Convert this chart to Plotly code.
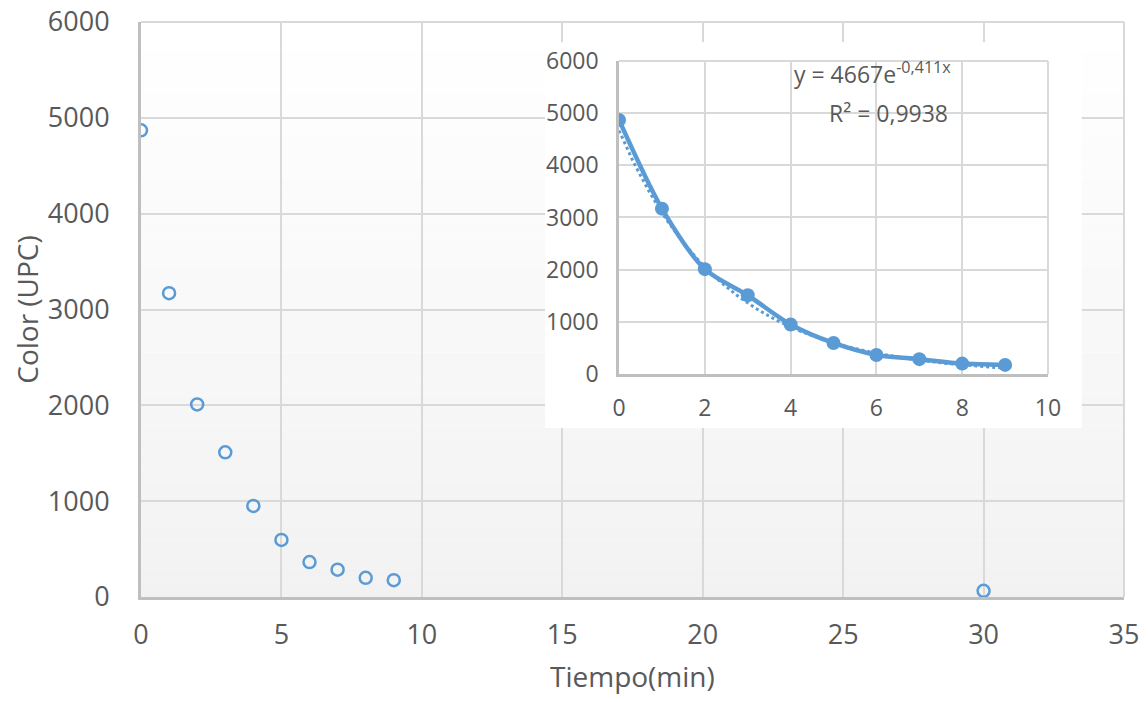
import numpy as np
import plotly.graph_objects as go

# ---- data ----
tiempo = [0, 1, 2, 3, 4, 5, 6, 7, 8, 9, 30]
color_upc = [4870, 3170, 2010, 1510, 950, 595, 365, 285, 200, 175, 65]

tiempo_inset = [0, 1, 2, 3, 4, 5, 6, 7, 8, 9]
color_inset = [4870, 3170, 2010, 1510, 950, 595, 365, 285, 200, 175]

# exponential trendline shown in the inset label: y = 4667 e^(-0.411 x)
trend_a = 4667
trend_k = 0.411
trend_x = np.linspace(0, 9, 120)
trend_y = trend_a * np.exp(-trend_k * trend_x)

eq_label = "y = 4667e<sup>-0,411x</sup>"
r2_label = "R² = 0,9938"
x_title = "Tiempo(min)"
y_title = "Color (UPC)"

BLUE = "#5B9BD5"
GRID = "#D9D9D9"
AXIS = "#BFBFBF"
TXT = "#595959"
FONT = "Open Sans"

fig = go.Figure()

# main scatter (open circles)
fig.add_trace(go.Scatter(
    x=tiempo, y=color_upc, mode="markers",
    marker=dict(symbol="circle-open", size=12, color=BLUE, line=dict(width=2.5, color=BLUE)),
    xaxis="x", yaxis="y", showlegend=False, hoverinfo="skip"))

# invisible trace to create the white backing panel subplot
fig.add_trace(go.Scatter(x=[None], y=[None], xaxis="x2", yaxis="y2",
                         showlegend=False, hoverinfo="skip"))

# inset: trendline (dotted)
fig.add_trace(go.Scatter(
    x=trend_x, y=trend_y, mode="lines",
    line=dict(color=BLUE, width=3, dash="dot"),
    xaxis="x3", yaxis="y3", showlegend=False, hoverinfo="skip"))

# inset: smoothed line with markers
fig.add_trace(go.Scatter(
    x=tiempo_inset, y=color_inset, mode="lines+markers",
    line=dict(color=BLUE, width=4.5, shape="spline", smoothing=0.8),
    marker=dict(size=14, color=BLUE),
    xaxis="x3", yaxis="y3", showlegend=False, hoverinfo="skip"))

# gradient background for main plot area (white -> light grey)
n_bands = 40
shapes = []
for i in range(n_bands):
    t = i / (n_bands - 1)
    v = int(round(242 + (255 - 242) * t))
    shapes.append(dict(type="rect", xref="paper", yref="paper",
                       x0=0, x1=1, y0=i / n_bands, y1=(i + 1) / n_bands,
                       fillcolor=f"rgb({v},{v},{v})", line=dict(width=0),
                       layer="below"))

# outer grid borders (top / right) that plotly omits at range ends
for xr, yr in (("x domain", "y domain"), ("x3 domain", "y3 domain")):
    shapes.append(dict(type="line", xref=xr, yref=yr, x0=0, x1=1, y0=1, y1=1,
                       line=dict(color=GRID, width=2), layer="above"))
    shapes.append(dict(type="line", xref=xr, yref=yr, x0=1, x1=1, y0=0, y1=1,
                       line=dict(color=GRID, width=2), layer="above"))

tickfont_main = dict(family=FONT, size=27, color=TXT)
tickfont_inset = dict(family=FONT, size=23, color=TXT)

# page body has an 8px default margin, so the figure is 16px smaller
fig.update_layout(
    width=1132, height=686,
    margin=dict(l=133, r=16, t=14, b=97, autoexpand=False),
    paper_bgcolor="white", plot_bgcolor="white",
    font=dict(family=FONT, color=TXT),
    shapes=shapes,
    xaxis=dict(domain=[0, 1], range=[0, 35], dtick=5, tick0=0, automargin=False,
               showgrid=True, gridcolor=GRID, gridwidth=2,
               showline=True, linecolor=AXIS, linewidth=3,
               zeroline=False, ticks="", tickfont=tickfont_main,
               ticklabelstandoff=12, ticklabeloverflow="allow"),
    yaxis=dict(domain=[0, 1], range=[0, 6000], dtick=1000, tick0=0, automargin=False,
               showgrid=True, gridcolor=GRID, gridwidth=2,
               showline=True, linecolor=AXIS, linewidth=3,
               zeroline=False, ticks="", tickfont=tickfont_main,
               ticklabelstandoff=23, ticklabeloverflow="allow",
               title=dict(text=y_title, font=dict(family=FONT, size=28, color=TXT),
                          standoff=4)),
    xaxis2=dict(domain=[0.411, 0.957], anchor="y2", visible=False, range=[0, 1]),
    yaxis2=dict(domain=[0.294, 0.965], anchor="x2", visible=False, range=[0, 1]),
    xaxis3=dict(domain=[0.4863, 0.9227], anchor="y3", range=[0, 10], dtick=2, tick0=0,
                automargin=False,
                showgrid=True, gridcolor=GRID, gridwidth=2,
                showline=True, linecolor=AXIS, linewidth=2.5,
                zeroline=False, ticks="", tickfont=tickfont_inset,
                ticklabelstandoff=12, ticklabeloverflow="allow"),
    yaxis3=dict(domain=[0.3878, 0.9322], anchor="x3", range=[0, 6000], dtick=1000, tick0=0,
                automargin=False,
                showgrid=True, gridcolor=GRID, gridwidth=2,
                showline=True, linecolor=AXIS, linewidth=2.5,
                zeroline=False, ticks="", tickfont=tickfont_inset,
                ticklabelstandoff=13, ticklabeloverflow="allow"),
    annotations=[
        dict(text=eq_label, xref="paper", yref="paper", x=0.7437, y=0.9113,
             showarrow=False, font=dict(family=FONT, size=23, color=TXT),
             xanchor="center", yanchor="middle"),
        dict(text=r2_label, xref="paper", yref="paper", x=0.760, y=0.8417,
             showarrow=False, font=dict(family=FONT, size=23, color=TXT),
             xanchor="center", yanchor="middle"),
        dict(text=x_title, xref="paper", yref="paper", x=0.5, y=-0.138,
             showarrow=False, font=dict(family=FONT, size=28, color=TXT),
             xanchor="center", yanchor="middle"),
    ],
)

fig.write_html("out.html")
